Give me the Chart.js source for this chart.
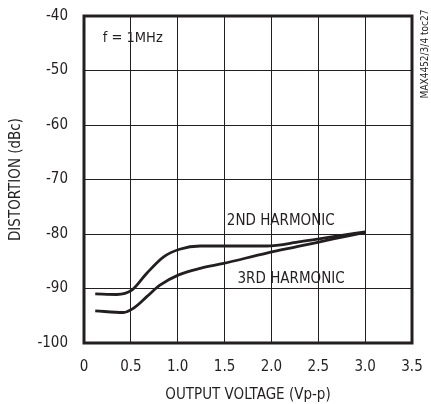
<!DOCTYPE html>
<html><head><meta charset="utf-8">
<script src="https://cdn.jsdelivr.net/npm/chart.js@4/dist/chart.umd.min.js"></script>
<style>html,body{margin:0;padding:0;background:#fff}#wrap{width:431px;height:404px;position:relative}</style>
</head><body><div id="wrap"><canvas id="c"></canvas></div>
<script>
const FONT = "'Liberation Sans Narrow','DejaVu Sans Condensed',sans-serif";
const INK = '#231f20';

const xTickValues = [0, 0.5, 1.0, 1.5, 2.0, 2.5, 3.0, 3.5];
const xTickLabels = ['0', '0.5', '1.0', '1.5', '2.0', '2.5', '3.0', '3.5'];
const yTickLabels = ['-40', '-50', '-60', '-70', '-80', '-90', '-100'];

const h2X = [0.12, 0.35, 0.51, 0.67, 0.85, 1.02, 1.24, 1.59, 1.95, 2.31, 2.66, 3.0];
const h2Y = [-91.0, -91.1, -90.3, -87.2, -84.2, -82.8, -82.2, -82.2, -82.2, -81.4, -80.5, -79.6];
const h3X = [0.12, 0.42, 0.53, 0.67, 0.81, 1.01, 1.24, 1.49, 1.95, 2.31, 2.66, 3.0];
const h3Y = [-94.1, -94.4, -93.6, -91.5, -89.4, -87.5, -86.3, -85.4, -83.5, -82.2, -80.9, -79.7];

const seriesNames = ['2ND HARMONIC', '3RD HARMONIC'];
const toPts = (xs, ys) => xs.map((x, i) => ({x, y: ys[i]}));

const notes = [
  {text: '2ND HARMONIC', x: 2.10, y: -78.3, align: 'center', size: 15},
  {text: '3RD HARMONIC', x: 2.21, y: -89.0, align: 'center', size: 15},
  {text: 'f = 1MHz', x: 0.20, y: -44.8, align: 'left', size: 14.5}
];

const framePlugin = {
  id: 'frame',
  afterDraw(chart) {
    const {ctx, chartArea: a, scales} = chart;
    ctx.save();
    ctx.strokeStyle = INK;
    ctx.lineWidth = 3;
    ctx.strokeRect(a.left, a.top, a.right - a.left, a.bottom - a.top);
    ctx.fillStyle = INK;
    ctx.textBaseline = 'alphabetic';
    notes.forEach(n => {
      ctx.font = n.size + 'px ' + FONT;
      ctx.textAlign = n.align;
      ctx.fillText(n.text, scales.x.getPixelForValue(n.x), scales.y.getPixelForValue(n.y));
    });
    ctx.font = '10px ' + FONT;
    ctx.translate(428, 54);
    ctx.rotate(-Math.PI / 2);
    ctx.textAlign = 'center';
    ctx.fillText('MAX4452/3/4 toc27', 0, 0);
    ctx.restore();
  }
};

const noPad = s => { s.paddingTop = 0; s.paddingBottom = 0; s.paddingLeft = 0; s.paddingRight = 0; };

new Chart(document.getElementById('c'), {
  type: 'scatter',
  data: {
    datasets: [
      {label: seriesNames[0], data: toPts(h2X, h2Y)},
      {label: seriesNames[1], data: toPts(h3X, h3Y)}
    ].map(d => Object.assign(d, {
      showLine: true, borderColor: INK, borderWidth: 2.8, pointRadius: 0,
      cubicInterpolationMode: 'monotone', fill: false
    }))
  },
  options: {
    responsive: true, maintainAspectRatio: false, animation: false,
    layout: {padding: {left: 0, top: 16, right: 19, bottom: 0}},
    plugins: {legend: {display: false}, tooltip: {enabled: false}},
    scales: {
      x: {
        type: 'linear', min: 0, max: 3.5,
        afterBuildTicks: s => { s.ticks = xTickValues.map(v => ({value: v})); },
        afterFit: s => { s.height = 61; noPad(s); },
        grid: {color: INK, lineWidth: 1, drawTicks: false},
        border: {display: false},
        ticks: {
          padding: 15, color: INK, font: {family: FONT, size: 15},
          maxRotation: 0, autoSkip: false,
          callback: (v, i) => xTickLabels[i]
        },
        title: {display: true, text: 'OUTPUT VOLTAGE (Vp-p)', color: INK,
          font: {family: FONT, size: 15}, padding: {top: 0, bottom: 0}}
      },
      y: {
        type: 'linear', min: -100, max: -40,
        afterBuildTicks: s => { s.ticks = yTickLabels.map(t => ({value: Number(t)})); },
        afterFit: s => { s.width = 84; noPad(s); },
        grid: {color: INK, lineWidth: 1, drawTicks: false},
        border: {display: false},
        ticks: {
          padding: 16, color: INK, font: {family: FONT, size: 15},
          autoSkip: false,
          callback: (v, i) => yTickLabels[i]
        },
        title: {display: true, text: 'DISTORTION (dBc)', color: INK,
          font: {family: FONT, size: 15}, padding: {top: 7, bottom: 0}}
      }
    }
  },
  plugins: [framePlugin]
});
</script></body></html>
